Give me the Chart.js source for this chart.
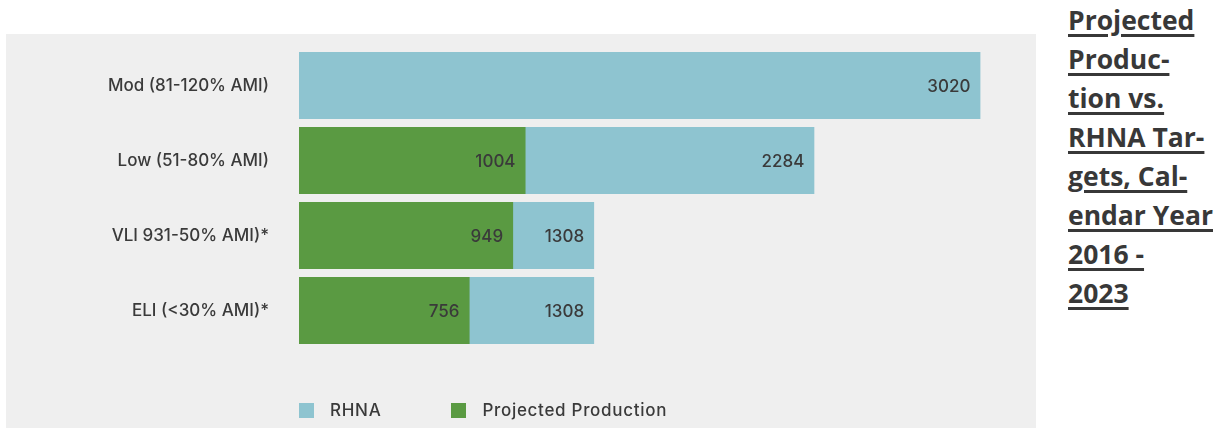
<!DOCTYPE html>
<html>
<head>
<meta charset="utf-8">
<script src="https://cdn.jsdelivr.net/npm/chart.js@4"></script>
<style>
  body { margin: 0; background: #fff; width: 1225px; height: 428px; overflow: hidden; position: relative; }
  #panel { position: absolute; left: 6px; top: 34px; width: 1030px; height: 394px; background: #efefef; }
  #title {
    position: absolute; left: 1068px; top: 1px; width: 157px;
    font-family: "Open Sans", sans-serif; font-weight: bold; font-size: 26.5px;
    line-height: 39px; color: #383838; white-space: nowrap;
  }
  #title span { text-decoration: underline; text-underline-offset: 4px; text-decoration-thickness: 3px; }
  #legend {
    position: absolute; left: 293px; top: 366px;
    font-family: "Inter", sans-serif; font-weight: 500; font-size: 17px; color: #3a3a3a;
    letter-spacing: 0.7px; display: flex; align-items: center;
  }
  .item { display: flex; align-items: center; margin-right: 70px; }
  .box { width: 15px; height: 15px; margin-right: 16px; }
</style>
</head>
<body>
<div id="panel">
  <canvas id="rhnaChart" width="1030" height="394"></canvas>
  <div id="legend"></div>
</div>
<div id="title">
  <span>Projected</span><br><span>Produc-</span><br><span>tion vs.</span><br><span>RHNA Tar-</span><br><span>gets, Cal-</span><br><span>endar Year</span><br><span>2016 -</span><br><span>2023</span>
</div>
<script>
const categories = ['Mod (81-120% AMI)', 'Low (51-80% AMI)', 'VLI 931-50% AMI)*', 'ELI (<30% AMI)*'];
const rhnaValues = [3020, 2284, 1308, 1308];
const productionValues = [null, 1004, 949, 756];

const fontFamily = '"Inter", sans-serif';
const textColor = '#3a3a3a';

/*Value labels at the end of each bar*/
const valueLabels = {
  id: 'valueLabels',
  afterDatasetsDraw(chart) {
    const ctx = chart.ctx;
    ctx.save();
    ctx.font = '500 17px ' + fontFamily;
    ctx.fillStyle = textColor;
    ctx.textAlign = 'right';
    ctx.textBaseline = 'middle';
    chart.data.datasets.forEach((ds, i) => {
      const meta = chart.getDatasetMeta(i);
      meta.data.forEach((bar, j) => {
        if (ds.data[j] == null) return;
        ctx.fillText(ds.data[j], bar.x - 10, bar.y + 1);
      });
    });
    ctx.restore();
  }
};

const ctx = document.getElementById('rhnaChart').getContext('2d');

const rhnaChart = new Chart(ctx, {
  type: 'bar',
  data: {
    labels: categories,
    datasets: [{
      label: 'Projected Production',
      data: productionValues,
      backgroundColor: '#5a9a42',
      grouped: false
    }, {
      label: 'RHNA',
      data: rhnaValues,
      backgroundColor: '#8ec4d0',
      grouped: false
    }]
  },
  options: {
    indexAxis: 'y',
    responsive: false,
    animation: false,
    categoryPercentage: 1,
    barPercentage: 0.893,
    layout: {
      padding: { top: 14, right: 15, left: 0, bottom: 80 }
    },
    scales: {
      x: {
        display: false,
        min: 0,
        max: 3200
      },
      y: {
        grid: { display: false },
        border: { display: false },
        ticks: {
          color: textColor,
          font: { family: fontFamily, size: 17, weight: 500 },
          padding: 22
        },
        afterFit(scale) {
          scale.width = 293;
          scale.paddingTop = 0;
          scale.paddingBottom = 0;
        }
      }
    },
    plugins: {
      tooltip: { enabled: false },
      legend: { display: false }
    }
  },
  plugins: [valueLabels]
});

/*Legend, RHNA first*/
const legendEl = document.getElementById('legend');
rhnaChart.data.datasets.slice().reverse().forEach(ds => {
  const item = document.createElement('div');
  item.className = 'item';
  const box = document.createElement('span');
  box.className = 'box';
  box.style.background = ds.backgroundColor;
  item.appendChild(box);
  item.appendChild(document.createTextNode(ds.label));
  legendEl.appendChild(item);
});
</script>
</body>
</html>
